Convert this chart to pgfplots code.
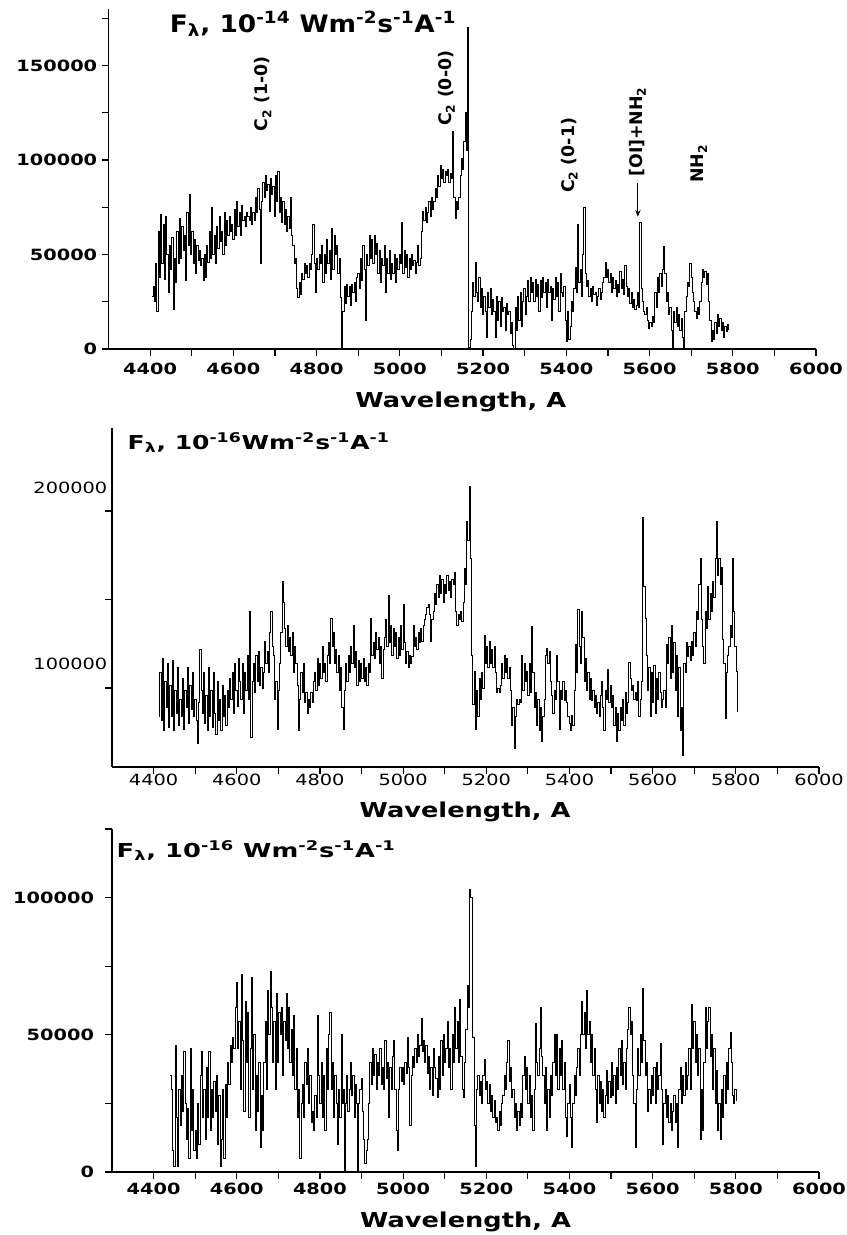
\documentclass[border=0pt]{standalone}
\usepackage{fontspec}
\setmainfont{DejaVu Sans}
\usepackage{graphicx}
\usepackage{pgfplots}
\pgfplotsset{compat=1.18}
\usetikzlibrary{arrows.meta}
\newcommand{\sx}[1]{\scalebox{1.25}[1]{#1}}
\newcommand{\tf}{\fontsize{11.6}{12}\selectfont\bfseries}
\newcommand{\tfr}{\fontsize{11.6}{12}\selectfont}
\newcommand{\lf}{\fontsize{15.4}{16}\selectfont\bfseries}
\newcommand{\rf}{\fontsize{13}{14}\selectfont\bfseries}
\pgfplotsset{
  spec/.style={
    scale only axis, clip=false,
    xmin=4300, xmax=6000,
    axis x line=bottom, axis y line=left,
    axis line style={-, line width=1pt},
    tick style={black, line width=0.9pt},
    tick align=outside,
    major tick length=5pt, minor tick length=5pt,
    xtick={4400,4600,...,6000},
    minor x tick num=1,
    xticklabels={\sx{4400},\sx{4600},\sx{4800},\sx{5000},\sx{5200},\sx{5400},\sx{5600},\sx{5800},\sx{6000}},
    ticklabel style={font=\tf},
    scaled ticks=false,
  },
  spl/.style={black, line width=0.75pt, const plot, mark=none},
}
\begin{document}
\begin{tikzpicture}
\path[use as bounding box] (0,0) rectangle (634.5pt,926.25pt);
% ---------------- Panel 1 ----------------
\begin{axis}[spec, at={(81.4pt,664.5pt)}, anchor=south west,
  width=530.6pt, height=255pt, ymin=0, ymax=180000,
  ytick={0,25000,...,175000},
  yticklabels={\sx{0},{},\sx{50000},{},\sx{100000},{},\sx{150000},{}},
  xticklabel style={yshift=-2pt}]
\addplot[spl] table {
4404 28000
4407 33000
4410 25000
4413 45000
4416 20000
4419 62000
4422 38000
4425 71000
4428 45000
4431 66000
4434 37000
4437 70000
4440 50000
4443 30000
4446 55000
4449 42000
4452 59000
4455 21000
4458 48000
4461 35000
4464 62000
4467 45000
4470 69000
4473 48000
4476 65000
4479 52000
4482 60000
4485 36000
4488 72000
4491 55000
4494 82000
4497 50000
4500 62000
4503 45000
4506 58000
4509 40000
4512 55000
4515 47000
4518 52000
4521 44000
4524 48000
4527 36000
4530 50000
4533 38000
4536 55000
4539 46000
4542 62000
4545 48000
4548 75000
4551 50000
4554 60000
4557 45000
4560 65000
4563 53000
4566 70000
4569 57000
4572 62000
4575 50000
4578 72000
4581 55000
4584 68000
4587 60000
4590 70000
4593 62000
4596 66000
4599 58000
4602 74000
4605 60000
4608 78000
4611 65000
4614 72000
4617 60000
4620 76000
4623 68000
4626 70000
4629 65000
4632 72000
4635 70000
4638 68000
4641 75000
4644 66000
4647 72000
4650 68000
4653 80000
4656 72000
4659 85000
4662 74000
4665 45000
4668 78000
4671 88000
4674 80000
4677 92000
4680 84000
4683 87000
4686 73000
4689 90000
4692 82000
4695 86000
4698 70000
4701 92000
4704 78000
4707 94000
4710 72000
4713 80000
4716 67000
4719 78000
4722 66000
4725 74000
4728 62000
4731 70000
4734 64000
4737 80000
4740 60000
4743 55000
4746 45000
4749 48000
4752 32000
4755 27000
4758 35000
4761 29000
4764 40000
4767 37000
4770 45000
4773 40000
4776 44000
4779 38000
4782 45000
4785 42000
4788 50000
4791 66000
4794 45000
4797 30000
4800 48000
4803 42000
4806 50000
4809 45000
4812 55000
4815 35000
4818 50000
4821 40000
4824 58000
4827 45000
4830 52000
4833 37000
4836 64000
4839 42000
4842 60000
4845 50000
4848 55000
4851 40000
4854 48000
4857 27000
4860 1000
4863 20000
4866 33000
4869 24000
4872 34000
4875 28000
4878 33000
4881 23000
4884 34000
4887 30000
4890 35000
4893 25000
4896 38000
4899 40000
4902 32000
4905 48000
4908 36000
4911 55000
4914 42000
4917 15000
4920 50000
4923 44000
4926 60000
4929 48000
4932 58000
4935 45000
4938 60000
4941 50000
4944 56000
4947 40000
4950 52000
4953 35000
4956 48000
4959 44000
4962 55000
4965 30000
4968 48000
4971 40000
4974 52000
4977 37000
4980 45000
4983 40000
4986 50000
4989 35000
4992 48000
4995 42000
4998 50000
5001 45000
5004 67000
5007 40000
5010 52000
5013 43000
5016 50000
5019 38000
5022 48000
5025 42000
5028 50000
5031 44000
5034 47000
5037 40000
5040 46000
5043 55000
5046 44000
5049 48000
5052 62000
5055 73000
5058 68000
5061 75000
5064 67000
5067 72000
5070 78000
5073 70000
5076 80000
5079 74000
5082 78000
5085 85000
5088 80000
5091 92000
5094 86000
5097 97000
5100 90000
5103 95000
5106 88000
5109 94000
5112 92000
5115 95000
5118 88000
5121 93000
5124 90000
5127 115000
5130 80000
5133 69000
5136 78000
5139 74000
5142 80000
5145 92000
5148 101000
5151 95000
5154 110000
5157 125000
5160 105000
5163 170000
5166 1000
5169 5000
5172 20000
5175 35000
5178 28000
5181 46000
5184 30000
5187 25000
5190 38000
5193 22000
5196 32000
5199 18000
5202 28000
5205 20000
5208 6000
5211 30000
5214 22000
5217 32000
5220 18000
5223 26000
5226 20000
5229 6000
5232 28000
5235 15000
5238 25000
5241 12000
5244 27000
5247 20000
5250 22000
5253 10000
5256 24000
5259 18000
5262 20000
5265 8000
5268 14000
5271 2000
5274 0
5277 22000
5280 10000
5283 28000
5286 15000
5289 30000
5292 12000
5295 25000
5298 32000
5301 18000
5304 28000
5307 36000
5310 25000
5313 38000
5316 30000
5319 35000
5322 25000
5325 37000
5328 28000
5331 34000
5334 20000
5337 36000
5340 27000
5343 38000
5346 30000
5349 35000
5352 22000
5355 37000
5358 30000
5361 33000
5364 15000
5367 32000
5370 26000
5373 38000
5376 28000
5379 35000
5382 20000
5385 40000
5388 30000
5391 28000
5394 33000
5397 15000
5400 4000
5403 20000
5406 5000
5409 12000
5412 25000
5415 20000
5418 32000
5421 43000
5424 30000
5427 66000
5430 35000
5433 42000
5436 28000
5439 50000
5442 75000
5445 40000
5448 33000
5451 36000
5454 28000
5457 32000
5460 25000
5463 33000
5466 29000
5469 30000
5472 23000
5475 28000
5478 32000
5481 26000
5484 30000
5487 35000
5490 38000
5493 46000
5496 38000
5499 42000
5502 35000
5505 40000
5508 30000
5511 38000
5514 32000
5517 36000
5520 28000
5523 34000
5526 30000
5529 41000
5532 32000
5535 37000
5538 29000
5541 44000
5544 33000
5547 28000
5550 32000
5553 24000
5556 30000
5559 22000
5562 26000
5565 21000
5568 23000
5571 30000
5574 22000
5577 67000
5580 32000
5583 25000
5586 20000
5589 18000
5592 22000
5595 15000
5598 11000
5601 14000
5604 12000
5607 17000
5610 14000
5613 30000
5616 22000
5619 38000
5622 30000
5625 40000
5628 33000
5631 42000
5634 54000
5637 40000
5640 25000
5643 30000
5646 18000
5649 22000
5652 10000
5655 1000
5658 20000
5661 14000
5664 22000
5667 12000
5670 18000
5673 10000
5676 16000
5679 6000
5682 0
5685 20000
5688 28000
5691 35000
5694 33000
5697 45000
5700 38000
5703 30000
5706 25000
5709 20000
5712 16000
5715 22000
5718 18000
5721 25000
5724 35000
5727 42000
5730 38000
5733 41000
5736 34000
5739 40000
5742 25000
5745 15000
5748 4000
5751 10000
5754 5000
5757 14000
5760 8000
5763 18000
5766 12000
5769 16000
5772 10000
5775 14000
5778 6000
5781 12000
5784 9000
5787 13000
5790 10000
};
\node[font=\lf] at (rel axis cs:0.498,-0.156) {\sx{Wavelength, A}};
\node[anchor=base west, font=\fontsize{18}{19}\selectfont\bfseries] at (rel axis cs:0.08,0.932)
  {\scalebox{1.1}[1]{F\textsubscript{λ}, 10\textsuperscript{-14} Wm\textsuperscript{-2}s\textsuperscript{-1}A\textsuperscript{-1}}};
\node[rotate=90, font=\rf] at (axis cs:4671,135000) {C\textsubscript{2} (1-0)};
\node[rotate=90, font=\rf] at (axis cs:5112,138000) {C\textsubscript{2} (0-0)};
\node[rotate=90, font=\rf] at (axis cs:5407,102500) {C\textsubscript{2} (0-1)};
\node[rotate=90, font=\rf] at (axis cs:5571,115000) {[OI]+NH\textsubscript{2}};
\node[rotate=90, font=\rf] at (axis cs:5719,98000) {NH\textsubscript{2}};
\draw[-{Stealth[length=5pt,width=4pt]}, line width=0.8pt] (axis cs:5572,88000) -- (axis cs:5572,70000);
\end{axis}
% ---------------- Panel 2 ----------------
\begin{axis}[spec, at={(84pt,351pt)}, anchor=south west,
  width=530.25pt, height=254.25pt, ymin=41500, ymax=234000,
  ytick={86400,136400,186900},
  yticklabels={{},{},{}},
  ticklabel style={font=\tfr},
  xticklabel style={yshift=3pt},
  extra y ticks={100000,200000},
  extra y tick labels={\sx{100000},\sx{200000}},
  extra y tick style={major tick length=0pt}]
\addplot[spl] table {
4412 70000
4415 95000
4418 68000
4421 103000
4424 62000
4427 90000
4430 75000
4433 100000
4436 64000
4439 88000
4442 70000
4445 102000
4448 62000
4451 85000
4454 72000
4457 98000
4460 65000
4463 80000
4466 70000
4469 92000
4472 63000
4475 85000
4478 75000
4481 98000
4484 66000
4487 88000
4490 74000
4493 95000
4496 70000
4499 80000
4502 68000
4505 55000
4508 78000
4511 108000
4514 85000
4517 72000
4520 95000
4523 66000
4526 82000
4529 62000
4532 98000
4535 70000
4538 85000
4541 64000
4544 95000
4547 72000
4550 60000
4553 90000
4556 68000
4559 80000
4562 62000
4565 88000
4568 70000
4571 82000
4574 65000
4577 85000
4580 75000
4583 92000
4586 80000
4589 95000
4592 72000
4595 100000
4598 85000
4601 76000
4604 103000
4607 90000
4610 80000
4613 100000
4616 72000
4619 95000
4622 85000
4625 105000
4628 80000
4631 130000
4634 58000
4637 90000
4640 100000
4643 84000
4646 105000
4649 90000
4652 107000
4655 88000
4658 98000
4661 86000
4664 95000
4667 113000
4670 100000
4673 107000
4676 95000
4679 118000
4682 130000
4685 110000
4688 105000
4691 80000
4694 90000
4697 63000
4700 85000
4703 100000
4706 118000
4709 147000
4712 135000
4715 120000
4718 110000
4721 122000
4724 107000
4727 115000
4730 105000
4733 118000
4736 95000
4739 110000
4742 100000
4745 88000
4748 62000
4751 80000
4754 95000
4757 84000
4760 100000
4763 78000
4766 84000
4769 72000
4772 80000
4775 75000
4778 84000
4781 78000
4784 90000
4787 95000
4790 85000
4793 103000
4796 88000
4799 100000
4802 92000
4805 110000
4808 95000
4811 100000
4814 90000
4817 105000
4820 112000
4823 100000
4826 126000
4829 110000
4832 118000
4835 100000
4838 108000
4841 95000
4844 105000
4847 85000
4850 98000
4853 75000
4856 63000
4859 85000
4862 100000
4865 90000
4868 105000
4871 95000
4874 110000
4877 100000
4880 122000
4883 98000
4886 107000
4889 88000
4892 102000
4895 90000
4898 100000
4901 92000
4904 103000
4907 90000
4910 98000
4913 88000
4916 100000
4919 95000
4922 126000
4925 105000
4928 112000
4931 103000
4934 118000
4937 108000
4940 115000
4943 100000
4946 110000
4949 92000
4952 108000
4955 115000
4958 125000
4961 110000
4964 139000
4967 112000
4970 122000
4973 105000
4976 120000
4979 110000
4982 118000
4985 103000
4988 115000
4991 105000
4994 122000
4997 108000
5000 134000
5003 112000
5006 100000
5009 107000
5012 98000
5015 105000
5018 100000
5021 104000
5024 122000
5027 110000
5030 115000
5033 108000
5036 118000
5039 112000
5042 120000
5045 113000
5048 122000
5051 125000
5054 128000
5057 132000
5060 134000
5063 128000
5066 113000
5069 125000
5072 130000
5075 140000
5078 134000
5081 145000
5084 138000
5087 150000
5090 140000
5093 148000
5096 135000
5099 145000
5102 140000
5105 150000
5108 142000
5111 147000
5114 138000
5117 148000
5120 145000
5123 152000
5126 130000
5129 122000
5132 128000
5135 125000
5138 130000
5141 124000
5144 135000
5147 154000
5150 145000
5153 181000
5156 170000
5159 201000
5162 160000
5165 105000
5168 77000
5171 96000
5174 63000
5177 85000
5180 70000
5183 92000
5186 80000
5189 95000
5192 86000
5195 116000
5198 100000
5201 110000
5204 98000
5207 113000
5210 100000
5213 108000
5216 98000
5219 110000
5222 95000
5225 84000
5228 86000
5231 84000
5234 88000
5237 100000
5240 92000
5243 105000
5246 95000
5249 103000
5252 92000
5255 98000
5258 85000
5261 65000
5264 75000
5267 52000
5270 70000
5273 80000
5276 77000
5279 80000
5282 78000
5285 105000
5288 85000
5291 100000
5294 90000
5297 96000
5300 82000
5303 100000
5306 84000
5309 121000
5312 95000
5315 75000
5318 84000
5321 65000
5324 80000
5327 62000
5330 75000
5333 56000
5336 70000
5339 80000
5342 105000
5345 109000
5348 100000
5351 107000
5354 90000
5357 82000
5360 72000
5363 85000
5366 80000
5369 105000
5372 90000
5375 63000
5378 85000
5381 80000
5384 90000
5387 79000
5390 85000
5393 78000
5396 70000
5399 66000
5402 62000
5405 71000
5408 65000
5411 85000
5414 111000
5417 95000
5420 131000
5423 110000
5426 100000
5429 130000
5432 115000
5435 90000
5438 103000
5441 85000
5444 95000
5447 80000
5450 92000
5453 79000
5456 85000
5459 75000
5462 82000
5465 72000
5468 78000
5471 70000
5474 82000
5477 90000
5480 75000
5483 62000
5486 85000
5489 80000
5492 97000
5495 78000
5498 88000
5501 75000
5504 82000
5507 65000
5510 75000
5513 56000
5516 72000
5519 62000
5522 75000
5525 68000
5528 80000
5531 65000
5534 84000
5537 72000
5540 78000
5543 101000
5546 92000
5549 85000
5552 88000
5555 80000
5558 84000
5561 79000
5564 90000
5567 70000
5570 80000
5573 90000
5576 183000
5579 144000
5582 126000
5585 105000
5588 85000
5591 98000
5594 70000
5597 95000
5600 78000
5603 99000
5606 72000
5609 92000
5612 80000
5615 95000
5618 84000
5621 75000
5624 80000
5627 85000
5630 75000
5633 111000
5636 100000
5639 115000
5642 92000
5645 122000
5648 95000
5651 112000
5654 85000
5657 105000
5660 70000
5663 98000
5666 62000
5669 75000
5672 48000
5675 100000
5678 95000
5681 112000
5684 104000
5687 110000
5690 102000
5693 113000
5696 105000
5699 118000
5702 110000
5705 130000
5708 125000
5711 145000
5714 160000
5717 125000
5720 110000
5723 100000
5726 130000
5729 120000
5732 144000
5735 125000
5738 140000
5741 130000
5744 147000
5747 138000
5750 160000
5753 181000
5756 150000
5759 160000
5762 145000
5765 155000
5768 114000
5771 100000
5774 69000
5777 95000
5780 105000
5783 110000
5786 122000
5789 115000
5792 160000
5795 130000
5798 110000
5801 96000
5804 73000
};
\node[font=\lf] at (rel axis cs:0.4993,-0.133) {\sx{Wavelength, A}};
\node[anchor=base west, font=\fontsize{14.4}{15}\selectfont\bfseries] at (rel axis cs:0.0156,0.938)
  {\scalebox{1.3}[1]{F\textsubscript{λ}, 10\textsuperscript{-16}Wm\textsuperscript{-2}s\textsuperscript{-1}A\textsuperscript{-1}}};
\end{axis}
% ---------------- Panel 3 ----------------
\begin{axis}[spec, at={(84pt,47.25pt)}, anchor=south west,
  width=530.25pt, height=257.25pt, ymin=0, ymax=125000,
  ytick={0,25000,...,125000},
  yticklabels={\sx{0},{},\sx{50000},{},\sx{100000},{}},
  yticklabel style={xshift=-5pt}]
\addplot[spl] table {
4440 35000
4443 30000
4446 8000
4449 2000
4452 46000
4455 20000
4458 2000
4461 30000
4464 17000
4467 35000
4470 22000
4473 44000
4476 25000
4479 12000
4482 23000
4485 5000
4488 45000
4491 15000
4494 30000
4497 8000
4500 15000
4503 5000
4506 25000
4509 10000
4512 35000
4515 44000
4518 20000
4521 30000
4524 12000
4527 38000
4530 20000
4533 44000
4536 15000
4539 30000
4542 20000
4545 33000
4548 22000
4551 35000
4554 10000
4557 28000
4560 2000
4563 12000
4566 30000
4569 5000
4572 32000
4575 20000
4578 40000
4581 32000
4584 46000
4587 40000
4590 49000
4593 45000
4596 60000
4599 69000
4602 45000
4605 55000
4608 30000
4611 72000
4614 48000
4617 22000
4620 62000
4623 40000
4626 58000
4629 20000
4632 45000
4635 71000
4638 30000
4641 50000
4644 15000
4647 35000
4650 22000
4653 40000
4656 9000
4659 28000
4662 15000
4665 40000
4668 55000
4671 30000
4674 66000
4677 50000
4680 73000
4683 60000
4686 40000
4689 55000
4692 30000
4695 65000
4698 40000
4701 58000
4704 50000
4707 60000
4710 35000
4713 55000
4716 48000
4719 65000
4722 45000
4725 60000
4728 40000
4731 52000
4734 35000
4737 57000
4740 30000
4743 45000
4746 20000
4749 30000
4752 5000
4755 25000
4758 32000
4761 20000
4764 40000
4767 32000
4770 45000
4773 25000
4776 35000
4779 18000
4782 22000
4785 15000
4788 28000
4791 20000
4794 57000
4797 35000
4800 25000
4803 40000
4806 20000
4809 35000
4812 15000
4815 45000
4818 30000
4821 50000
4824 58000
4827 30000
4830 40000
4833 20000
4836 35000
4839 25000
4842 10000
4845 30000
4848 20000
4851 50000
4854 25000
4857 30000
4858 0
4861 25000
4864 35000
4867 22000
4870 30000
4873 40000
4876 28000
4879 35000
4882 20000
4885 32000
4888 25000
4890 0
4893 25000
4896 30000
4899 34000
4902 22000
4905 12000
4908 3000
4911 8000
4914 12000
4917 25000
4920 40000
4923 32000
4926 45000
4929 35000
4932 43000
4935 30000
4938 40000
4941 35000
4944 45000
4947 32000
4950 38000
4953 30000
4956 48000
4959 34000
4962 40000
4965 20000
4968 38000
4971 30000
4974 42000
4977 48000
4980 30000
4983 15000
4986 8000
4989 30000
4992 38000
4995 33000
4998 38000
5001 32000
5004 40000
5007 36000
5010 49000
5013 38000
5016 17000
5019 35000
5022 42000
5025 38000
5028 45000
5031 40000
5034 50000
5037 42000
5040 46000
5043 56000
5046 44000
5049 48000
5052 40000
5055 46000
5058 36000
5061 42000
5064 30000
5067 38000
5070 28000
5073 45000
5076 38000
5079 34000
5082 27000
5085 42000
5088 30000
5091 48000
5094 35000
5097 50000
5100 40000
5103 45000
5106 55000
5109 38000
5112 45000
5115 30000
5118 50000
5121 40000
5124 60000
5127 45000
5130 55000
5133 40000
5136 63000
5139 42000
5142 30000
5145 27000
5148 40000
5151 52000
5154 68000
5157 60000
5160 103000
5163 100000
5166 70000
5168 49000
5171 17000
5174 2000
5177 30000
5180 35000
5183 28000
5186 33000
5189 25000
5192 35000
5195 41000
5198 30000
5201 33000
5204 25000
5207 32000
5210 22000
5213 28000
5216 20000
5219 26000
5222 18000
5225 20000
5228 15000
5231 22000
5234 17000
5237 25000
5240 28000
5243 35000
5246 30000
5249 40000
5252 48000
5255 33000
5258 38000
5261 27000
5264 30000
5267 20000
5270 25000
5273 15000
5276 22000
5279 17000
5282 25000
5285 20000
5288 35000
5291 42000
5294 30000
5297 38000
5300 25000
5303 35000
5306 20000
5309 28000
5312 15000
5315 30000
5318 54000
5321 40000
5324 35000
5327 45000
5330 60000
5333 42000
5336 35000
5339 25000
5342 38000
5345 15000
5348 30000
5351 20000
5354 35000
5357 28000
5360 40000
5363 50000
5366 35000
5369 50000
5372 30000
5375 45000
5378 35000
5381 48000
5384 30000
5387 40000
5390 20000
5393 13000
5396 25000
5399 32000
5402 20000
5405 9000
5408 25000
5411 35000
5414 28000
5417 38000
5420 45000
5423 35000
5426 50000
5429 62000
5432 50000
5435 58000
5438 45000
5441 66000
5444 50000
5447 55000
5450 40000
5453 50000
5456 35000
5459 45000
5462 30000
5465 18000
5468 35000
5471 25000
5474 33000
5477 22000
5480 30000
5483 20000
5486 28000
5489 37000
5492 25000
5495 33000
5498 27000
5501 40000
5504 28000
5507 35000
5510 25000
5513 38000
5516 30000
5519 45000
5522 35000
5525 48000
5528 32000
5531 40000
5534 30000
5537 45000
5540 52000
5543 60000
5546 50000
5549 55000
5552 35000
5555 25000
5558 9000
5561 30000
5564 45000
5567 35000
5570 50000
5573 40000
5576 67000
5579 48000
5582 35000
5585 40000
5588 22000
5591 30000
5594 25000
5597 35000
5600 28000
5603 38000
5606 25000
5609 40000
5612 30000
5615 35000
5618 47000
5621 30000
5624 10000
5627 25000
5630 30000
5633 20000
5636 28000
5639 18000
5642 25000
5645 15000
5648 22000
5651 28000
5654 18000
5657 25000
5660 9000
5663 30000
5666 38000
5669 25000
5672 35000
5675 28000
5678 40000
5681 30000
5684 35000
5687 45000
5690 30000
5693 61000
5696 45000
5699 55000
5702 40000
5705 50000
5708 35000
5711 45000
5714 12000
5717 30000
5720 15000
5723 40000
5726 60000
5729 45000
5732 55000
5735 60000
5738 42000
5741 50000
5744 30000
5747 45000
5750 25000
5753 37000
5756 15000
5759 25000
5762 12000
5765 30000
5768 20000
5771 35000
5774 25000
5777 40000
5780 30000
5783 45000
5786 51000
5789 40000
5792 28000
5795 25000
5798 30000
5801 26000
};
\node[font=\lf] at (rel axis cs:0.5,-0.146) {\sx{Wavelength, A}};
\node[anchor=base west, font=\fontsize{14.4}{15}\selectfont\bfseries] at (rel axis cs:0.0,0.918)
  {\scalebox{1.34}[1]{F\textsubscript{λ}, 10\textsuperscript{-16} Wm\textsuperscript{-2}s\textsuperscript{-1}A\textsuperscript{-1}}};
\end{axis}
\end{tikzpicture}
\end{document}
